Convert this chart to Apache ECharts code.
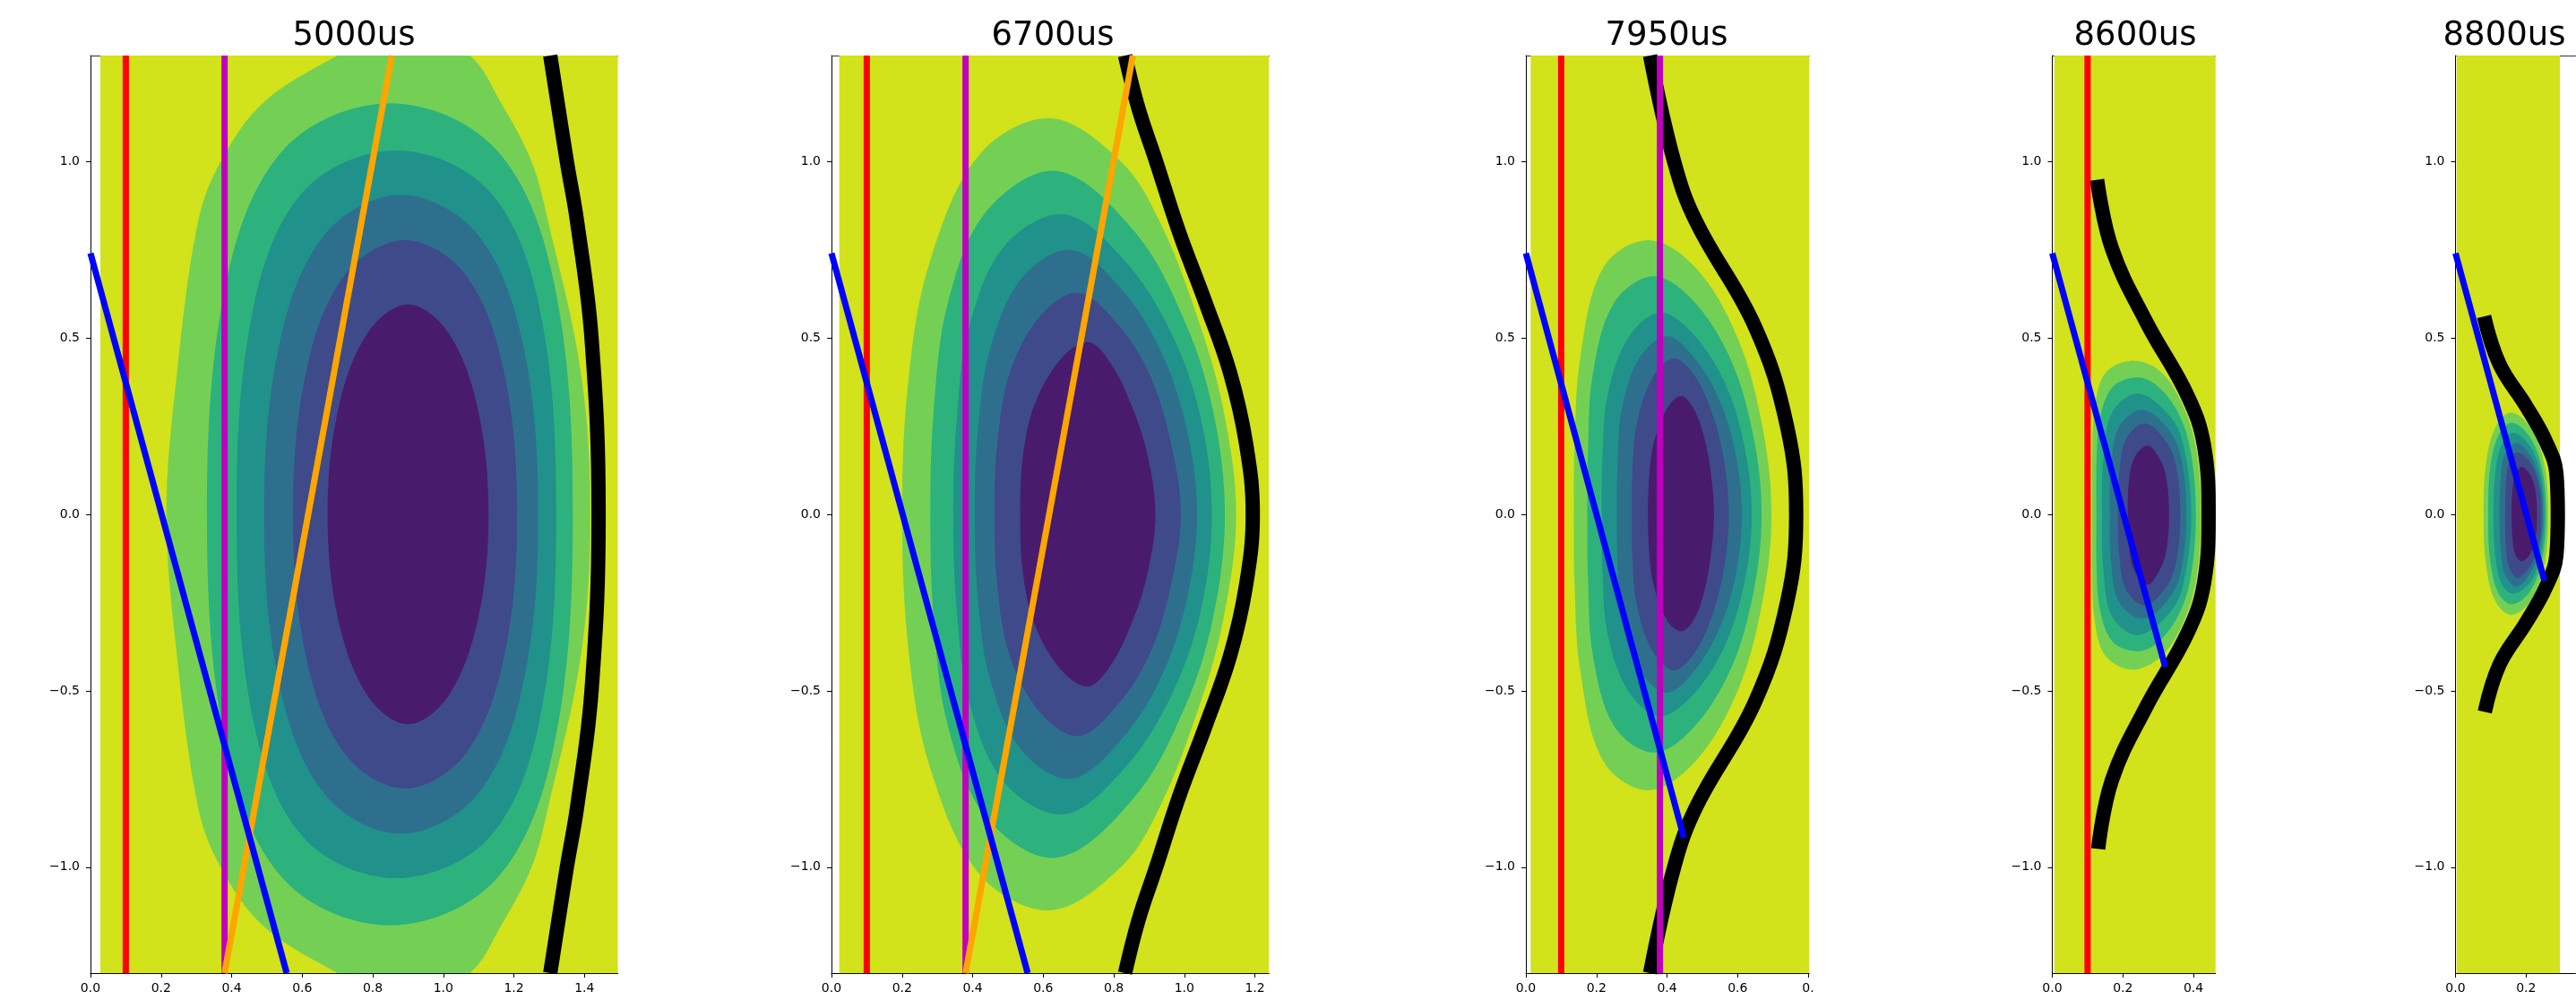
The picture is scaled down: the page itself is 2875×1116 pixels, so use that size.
<!DOCTYPE html>
<html lang="en">
<head>
<meta charset="UTF-8">
<title>contours</title>
<script src="https://cdn.jsdelivr.net/npm/echarts@6/dist/echarts.min.js"></script>
<style>
  html, body { margin: 0; padding: 0; background: #fff; }
  #main { width: 2875px; height: 1116px; }
</style>
</head>
<body>
<div id="main"></div>
<script type="text/javascript">
// ---- data ----
var titles = ['5000us', '6700us', '7950us', '8600us', '8800us'];
var xMax = [1.495, 1.24, 0.803, 0.463, 0.34];
var fillStart = [0.028, 0.022, 0.0135, 0.006, 0.003];
var fillEnd = [1.495, 1.24, 0.803, 0.463, 0.296];
var yTicks = [-1, -0.5, 0, 0.5, 1];
var xTicks = [
    [0, 0.2, 0.4, 0.6, 0.8, 1.0, 1.2, 1.4],
    [0, 0.2, 0.4, 0.6, 0.8, 1.0, 1.2],
    [0, 0.2, 0.4, 0.6, 0.8],
    [0, 0.2, 0.4],
    [0, 0.2]
];
var xTickText = [
    ['0.0', '0.2', '0.4', '0.6', '0.8', '1.0', '1.2', '1.4'],
    ['0.0', '0.2', '0.4', '0.6', '0.8', '1.0', '1.2'],
    ['0.0', '0.2', '0.4', '0.6', '0.'],
    ['0.0', '0.2', '0.4'],
    ['0.0', '0.2']
];
// background, then outer -> inner filled levels
var levelColors = ['#d2e21b', '#74d055', '#2db27d', '#21918c', '#2e6f8e', '#3e4a89', '#481b6d'];

var rings5000 = [
    [[1.417,0],[1.39,0.4],[1.297,0.83],[1.25,1.0],[1.163,1.167],[1.075,1.3],[0.89,1.39],[0.70,1.3],[0.49,1.167],[0.369,1.0],[0.305,0.83],[0.245,0.4],[0.215,0],[0.245,-0.4],[0.305,-0.83],[0.369,-1.0],[0.49,-1.167],[0.70,-1.3],[0.89,-1.39],[1.075,-1.3],[1.163,-1.167],[1.25,-1.0],[1.297,-0.83],[1.39,-0.4]],
    [[1.367,0],[1.311,0.669],[1.146,1.038],[0.849,1.165],[0.551,1.038],[0.387,0.669],[0.33,0],[0.387,-0.669],[0.551,-1.038],[0.849,-1.165],[1.146,-1.038],[1.311,-0.669]],
    [[1.32,0],[1.271,0.592],[1.127,0.919],[0.867,1.031],[0.607,0.919],[0.463,0.592],[0.414,0],[0.463,-0.592],[0.607,-0.919],[0.867,-1.031],[1.127,-0.919],[1.271,-0.592]],
    [[1.269,0],[1.223,0.495],[1.093,0.798],[0.88,0.905],[0.668,0.798],[0.538,0.495],[0.492,0],[0.538,-0.495],[0.668,-0.798],[0.88,-0.905],[1.093,-0.798],[1.223,-0.495]],
    [[1.209,0],[1.170,0.413],[1.061,0.681],[0.892,0.777],[0.723,0.681],[0.613,0.413],[0.574,0],[0.613,-0.413],[0.723,-0.681],[0.892,-0.777],[1.061,-0.681],[1.170,-0.413]],
    [[1.128,0],[1.098,0.298],[1.014,0.515],[0.9,0.595],[0.786,0.515],[0.702,0.298],[0.672,0],[0.702,-0.298],[0.786,-0.515],[0.9,-0.595],[1.014,-0.515],[1.098,-0.298]]
];
var rings6700 = [
    [[1.147,0],[1.11,0.3],[1.04,0.55],[0.93,0.83],[0.82,1.0],[0.62,1.122],[0.42,1.02],[0.28,0.72],[0.22,0.4],[0.2,0],[0.22,-0.4],[0.28,-0.72],[0.42,-1.02],[0.62,-1.122],[0.82,-1.0],[0.93,-0.83],[1.04,-0.55],[1.11,-0.3]],
    [[1.115,0],[1.08,0.3],[1.0,0.55],[0.86,0.8],[0.639,0.973],[0.44,0.86],[0.33,0.6],[0.29,0.3],[0.28,0],[0.29,-0.3],[0.33,-0.6],[0.44,-0.86],[0.639,-0.973],[0.86,-0.8],[1.0,-0.55],[1.08,-0.3]],
    [[1.078,0],[1.045,0.28],[0.96,0.52],[0.83,0.72],[0.66,0.85],[0.49,0.76],[0.39,0.53],[0.355,0.27],[0.345,0],[0.355,-0.27],[0.39,-0.53],[0.49,-0.76],[0.66,-0.85],[0.83,-0.72],[0.96,-0.52],[1.045,-0.28]],
    [[1.036,0],[1.005,0.25],[0.93,0.47],[0.82,0.64],[0.68,0.749],[0.54,0.67],[0.45,0.47],[0.415,0.24],[0.406,0],[0.415,-0.24],[0.45,-0.47],[0.54,-0.67],[0.68,-0.749],[0.82,-0.64],[0.93,-0.47],[1.005,-0.25]],
    [[0.99,0],[0.96,0.21],[0.9,0.4],[0.81,0.54],[0.70,0.628],[0.59,0.56],[0.505,0.4],[0.47,0.2],[0.462,0],[0.47,-0.2],[0.505,-0.4],[0.59,-0.56],[0.70,-0.628],[0.81,-0.54],[0.9,-0.4],[0.96,-0.21]],
    [[0.918,0],[0.895,0.17],[0.85,0.31],[0.79,0.43],[0.727,0.488],[0.65,0.44],[0.575,0.31],[0.542,0.16],[0.535,0],[0.542,-0.16],[0.575,-0.31],[0.65,-0.44],[0.727,-0.488],[0.79,-0.43],[0.85,-0.31],[0.895,-0.17]]
];
var rings7950 = [
    [[0.696,0],[0.67,0.25],[0.6,0.5],[0.48,0.7],[0.346,0.777],[0.22,0.7],[0.155,0.45],[0.138,0.2],[0.136,0],[0.138,-0.2],[0.155,-0.45],[0.22,-0.7],[0.346,-0.782],[0.48,-0.7],[0.6,-0.5],[0.67,-0.25]],
    [[0.668,0],[0.645,0.22],[0.58,0.44],[0.47,0.61],[0.36,0.675],[0.25,0.6],[0.19,0.4],[0.176,0.18],[0.174,0],[0.176,-0.18],[0.19,-0.4],[0.25,-0.6],[0.36,-0.675],[0.47,-0.61],[0.58,-0.44],[0.645,-0.22]],
    [[0.64,0],[0.62,0.19],[0.565,0.37],[0.475,0.51],[0.38,0.572],[0.29,0.5],[0.232,0.34],[0.217,0.16],[0.215,0],[0.217,-0.16],[0.232,-0.34],[0.29,-0.5],[0.38,-0.572],[0.475,-0.51],[0.565,-0.37],[0.62,-0.19]],
    [[0.612,0],[0.595,0.17],[0.55,0.32],[0.48,0.44],[0.40,0.505],[0.32,0.44],[0.272,0.3],[0.26,0.15],[0.258,0],[0.26,-0.15],[0.272,-0.3],[0.32,-0.44],[0.40,-0.505],[0.48,-0.44],[0.55,-0.32],[0.595,-0.17]],
    [[0.575,0],[0.562,0.15],[0.53,0.28],[0.48,0.39],[0.42,0.442],[0.36,0.39],[0.315,0.26],[0.302,0.13],[0.3,0],[0.302,-0.13],[0.315,-0.26],[0.36,-0.39],[0.42,-0.442],[0.48,-0.39],[0.53,-0.28],[0.562,-0.15]],
    [[0.533,0],[0.525,0.11],[0.505,0.22],[0.475,0.3],[0.44,0.335],[0.4,0.3],[0.362,0.2],[0.349,0.1],[0.346,0],[0.349,-0.1],[0.362,-0.2],[0.4,-0.3],[0.44,-0.331],[0.475,-0.3],[0.505,-0.22],[0.525,-0.11]]
];
var rings8600 = [
    [[0.422,0],[0.405,0.2],[0.36,0.33],[0.30,0.41],[0.223,0.435],[0.15,0.4],[0.12,0.3],[0.113,0.15],[0.113,0],[0.113,-0.15],[0.12,-0.3],[0.15,-0.4],[0.223,-0.44],[0.30,-0.41],[0.36,-0.33],[0.405,-0.2]],
    [[0.407,0],[0.39,0.19],[0.35,0.3],[0.29,0.37],[0.235,0.388],[0.17,0.36],[0.135,0.27],[0.125,0.13],[0.125,0],[0.125,-0.13],[0.135,-0.27],[0.17,-0.36],[0.235,-0.388],[0.29,-0.37],[0.35,-0.3],[0.39,-0.19]],
    [[0.394,0],[0.375,0.18],[0.34,0.27],[0.245,0.342],[0.17,0.29],[0.145,0.16],[0.141,0],[0.145,-0.16],[0.17,-0.29],[0.245,-0.342],[0.34,-0.27],[0.375,-0.18]],
    [[0.38,0],[0.365,0.16],[0.33,0.24],[0.257,0.296],[0.19,0.25],[0.167,0.14],[0.163,0],[0.167,-0.14],[0.19,-0.25],[0.257,-0.296],[0.33,-0.24],[0.365,-0.16]],
    [[0.363,0],[0.35,0.14],[0.32,0.21],[0.262,0.258],[0.21,0.215],[0.19,0.12],[0.186,0],[0.19,-0.12],[0.21,-0.215],[0.262,-0.258],[0.32,-0.21],[0.35,-0.14]],
    [[0.331,0],[0.322,0.11],[0.3,0.165],[0.27,0.195],[0.235,0.165],[0.218,0.1],[0.214,0],[0.218,-0.1],[0.235,-0.165],[0.27,-0.2],[0.3,-0.165],[0.322,-0.11]]
];
var rings8800 = [
    [[0.263,0],[0.25,0.15],[0.21,0.25],[0.155,0.289],[0.11,0.24],[0.085,0.13],[0.08,0],[0.085,-0.13],[0.11,-0.24],[0.155,-0.285],[0.21,-0.25],[0.25,-0.15]],
    [[0.257,0],[0.245,0.13],[0.21,0.22],[0.159,0.26],[0.12,0.22],[0.097,0.12],[0.093,0],[0.097,-0.12],[0.12,-0.22],[0.159,-0.255],[0.21,-0.22],[0.245,-0.13]],
    [[0.252,0],[0.24,0.12],[0.21,0.195],[0.163,0.231],[0.13,0.195],[0.112,0.11],[0.108,0],[0.112,-0.11],[0.13,-0.195],[0.163,-0.225],[0.21,-0.195],[0.24,-0.12]],
    [[0.248,0],[0.238,0.1],[0.21,0.17],[0.172,0.202],[0.14,0.17],[0.128,0.1],[0.125,0],[0.128,-0.1],[0.14,-0.17],[0.172,-0.205],[0.21,-0.17],[0.238,-0.1]],
    [[0.244,0],[0.235,0.09],[0.21,0.15],[0.176,0.175],[0.152,0.15],[0.143,0.09],[0.141,0],[0.143,-0.09],[0.152,-0.15],[0.176,-0.18],[0.21,-0.15],[0.235,-0.09]],
    [[0.231,0],[0.226,0.07],[0.21,0.115],[0.186,0.134],[0.168,0.11],[0.161,0.06],[0.159,0],[0.161,-0.06],[0.168,-0.11],[0.186,-0.133],[0.21,-0.115],[0.226,-0.07]]
];
var contourRings = [rings5000, rings6700, rings7950, rings8600, rings8800];

// thick black boundary curve of each frame
var boundary5000 = [[1.303,-1.3],[1.35,-1.0],[1.379,-0.83],[1.42,-0.5],[1.44,0],[1.42,0.5],[1.379,0.83],[1.35,1.0],[1.303,1.3]];
var boundary6700 = [[0.832,-1.3],[0.87,-1.15],[0.92,-1.0],[0.985,-0.8],[1.06,-0.6],[1.13,-0.4],[1.175,-0.2],[1.194,0],[1.175,0.2],[1.13,0.4],[1.06,0.6],[0.985,0.8],[0.92,1.0],[0.87,1.15],[0.832,1.3]];
var boundary7950 = [[0.352,-1.3],[0.42,-1.0],[0.482,-0.83],[0.65,-0.53],[0.74,-0.25],[0.766,0],[0.74,0.25],[0.65,0.53],[0.482,0.83],[0.42,1.0],[0.352,1.3]];
var boundary8600 = [[0.13,-0.948],[0.169,-0.753],[0.267,-0.544],[0.384,-0.335],[0.43,-0.195],[0.443,0],[0.43,0.195],[0.384,0.335],[0.267,0.544],[0.169,0.753],[0.127,0.948]];
var boundary8800 = [[0.083,-0.56],[0.125,-0.425],[0.2,-0.307],[0.256,-0.207],[0.286,-0.116],[0.29,0],[0.286,0.116],[0.256,0.207],[0.2,0.307],[0.125,0.425],[0.081,0.561]];
var boundaries = [boundary5000, boundary6700, boundary7950, boundary8600, boundary8800];

// straight chords
var redX = 0.1;
var magentaX = 0.38;
var orangeLine = [[0.38, -1.3], [0.854, 1.3]];
var blueStart = [0, 0.74];
var blueEnd = [[0.556, -1.3], [0.556, -1.3], [0.448, -0.917], [0.32, -0.432], [0.252, -0.188]];
var showRed = [true, true, true, true, false];
var showMagenta = [true, true, true, false, false];
var showOrange = [true, true, false, false, false];

// ---- layout ----
var K = 393.8;                 // px per data unit (equal aspect)
var gridTop = 62, gridHeight = 1024;
var gridLeft = [101, 928, 1703, 2290.5, 2740.5];
var titleX = [395, 1175, 1860, 2383, 2795];
var fontFam = 'DejaVu Sans';

var chart = echarts.init(document.getElementById('main'), null, { renderer: 'canvas' });

function fmtY(v) {
    return v.toFixed(1).replace('-', '\u2212');
}

function contourSeries(p) {
    var rect = [[fillStart[p], -1.3], [fillEnd[p], -1.3], [fillEnd[p], 1.3], [fillStart[p], 1.3]];
    var rings = [rect].concat(contourRings[p]);
    return {
        type: 'custom',
        xAxisIndex: 2 * p,
        yAxisIndex: p,
        silent: true,
        clip: true,
        data: rings.map(function (r) { return r[0]; }),
        renderItem: function (params, api) {
            var ring = rings[params.dataIndex];
            var pts = ring.map(function (pt) { return api.coord(pt); });
            var cs = params.coordSys;
            return {
                type: 'polygon',
                shape: { points: pts, smooth: params.dataIndex === 0 ? 0 : 0.35 },
                style: { fill: levelColors[params.dataIndex] },
                clipPath: { type: 'rect', shape: { x: cs.x, y: cs.y, width: cs.width, height: cs.height } }
            };
        },
        z: 1
    };
}

function lineSeries(p, pts, color, width, smooth) {
    return {
        type: 'line',
        xAxisIndex: 2 * p,
        yAxisIndex: p,
        data: pts,
        symbol: 'none',
        showSymbol: false,
        smooth: smooth || false,
        silent: true,
        lineStyle: { color: color, width: width, cap: 'butt', join: 'round' },
        z: 3
    };
}

var series = [];
var xAxes = [];
var yAxes = [];
var grids = [];
var titleList = [];

for (var p = 0; p < 5; p++) {
    (function (p) {
        grids.push({
            left: gridLeft[p], top: gridTop,
            width: xMax[p] * K, height: gridHeight,
            show: false, containLabel: false, outerBoundsMode: 'none'
        });
        titleList.push({
            text: titles[p], left: titleX[p], top: 22, textAlign: 'center', padding: 0,
            textStyle: { fontSize: 37, fontWeight: 'normal', color: '#000', fontFamily: fontFam }
        });
        xAxes.push({
            gridIndex: p, type: 'value', min: 0, max: xMax[p], position: 'bottom',
            axisLine: { show: true, onZero: false, lineStyle: { color: '#000', width: 1 } },
            axisTick: { show: true, inside: false, length: 5, customValues: xTicks[p], lineStyle: { color: '#000', width: 1 } },
            axisLabel: {
                show: true, customValues: xTicks[p], margin: 10, fontSize: 14, color: '#000', fontFamily: fontFam,
                formatter: function (v) {
                    for (var i = 0; i < xTicks[p].length; i++) {
                        if (Math.abs(xTicks[p][i] - v) < 1e-9) return xTickText[p][i];
                    }
                    return '';
                }
            },
            splitLine: { show: false }
        });
        xAxes.push({
            gridIndex: p, type: 'value', min: 0, max: xMax[p], position: 'top',
            axisLine: { show: true, onZero: false, lineStyle: { color: '#333', width: 1 } },
            axisTick: { show: false }, axisLabel: { show: false }, splitLine: { show: false }
        });
        yAxes.push({
            gridIndex: p, type: 'value', min: -1.3, max: 1.3, position: 'left',
            axisLine: { show: true, onZero: false, lineStyle: { color: '#000', width: 1 } },
            axisTick: { show: true, inside: false, length: 5, customValues: yTicks, lineStyle: { color: '#000', width: 1 } },
            axisLabel: { show: true, customValues: yTicks, margin: 12, fontSize: 14, color: '#000', fontFamily: fontFam, formatter: fmtY },
            splitLine: { show: false }
        });

        series.push(contourSeries(p));
        series.push(lineSeries(p, boundaries[p], '#000', 16, 0.4));
        if (showRed[p]) series.push(lineSeries(p, [[redX, -1.3], [redX, 1.3]], '#ff0000', 7));
        if (showMagenta[p]) series.push(lineSeries(p, [[magentaX, -1.3], [magentaX, 1.3]], '#bf00bf', 7));
        if (showOrange[p]) series.push(lineSeries(p, orangeLine, '#ffa500', 7));
        series.push(lineSeries(p, [blueStart, blueEnd[p]], '#0000ff', 7));
    })(p);
}

var option = {
    animation: false,
    backgroundColor: '#ffffff',
    title: titleList,
    grid: grids,
    xAxis: xAxes,
    yAxis: yAxes,
    series: series
};

chart.setOption(option);
</script>
</body>
</html>
